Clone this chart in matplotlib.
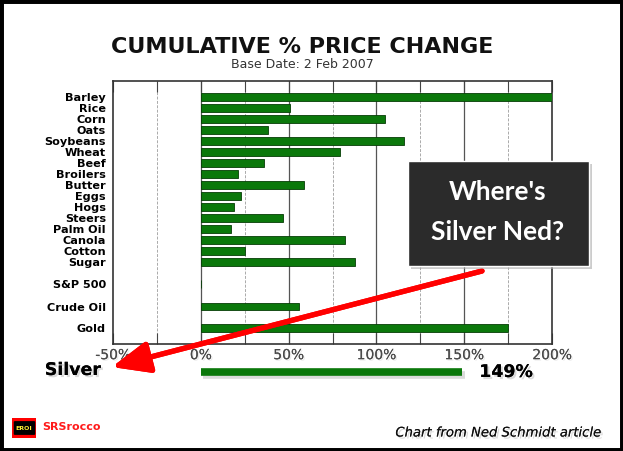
import matplotlib.pyplot as plt
import matplotlib.patheffects as pe
from matplotlib.patches import Rectangle, FancyBboxPatch

# data (cumulative % change since 2 Feb 2007)
commodities = ['Barley', 'Rice', 'Corn', 'Oats', 'Soybeans', 'Wheat', 'Beef', 'Broilers',
               'Butter', 'Eggs', 'Hogs', 'Steers', 'Palm Oil', 'Canola', 'Cotton', 'Sugar']
commodity_chg = [200, 51, 105, 38, 116, 79, 36, 21, 59, 23, 19, 47, 17, 82, 25, 88]
others = ['S&P 500', 'Crude Oil', 'Gold']
others_chg = [0, 56, 175]
silver_chg = 149
xticks = [-50, 0, 50, 100, 150, 200]
xlabels = ['-50%', '0%', '50%', '100%', '150%', '200%']

W, H = 623, 451
fig = plt.figure(figsize=(W / 100, H / 100), dpi=100)
fig.patch.set_facecolor('white')


def fx(px):
	return px / W


def fy(py):
	return 1 - py / H


ax = fig.add_axes([fx(113), fy(344), fx(552) - fx(113), fy(81) - fy(344)])

labels = commodities + others
values = commodity_chg + others_chg
pos = list(range(len(commodities))) + [17.0, 19.05, 21.0]

bar_green = '#0b780b'
ax.barh(pos, values, height=0.65, color=bar_green, edgecolor='#063d06', linewidth=0.6, zorder=3)

ax.set_xlim(-50, 200)
ax.set_ylim(22.45, -1.45)
ax.set_yticks(pos)
ax.set_yticklabels(labels, fontsize=8.1, fontweight='bold', color='black')
ax.set_xticks(xticks)
ax.set_xticklabels(xlabels, fontsize=10, color='#4a4a4a')
for t in ax.get_xticklabels():
	t.set_path_effects([pe.withSimplePatchShadow(offset=(1, -1), shadow_rgbFace='#cccccc', alpha=0.4), pe.Normal()])
ax.set_xticks([-25, 25, 75, 125, 175], minor=True)
ax.tick_params(axis='y', length=0, pad=5)
ax.tick_params(axis='x', which='both', direction='in', length=8, top=True, bottom=True,
			   color='#444444', width=0.8, pad=3)

# grid: darker at 50% steps, light dashed in between
for v in [0, 50, 100, 150]:
	ax.axvline(v, color='#555555', lw=0.9, zorder=1)
for v in [-25, 25, 75, 125, 175]:
	ax.axvline(v, color='#aaaaaa', lw=0.7, ls=(0, (3, 1.5)), zorder=1)
for s in ax.spines.values():
	s.set_color('#333333')
	s.set_linewidth(1.2)

# silver bar below the axis
ax.plot([0, silver_chg], [25, 25], color=bar_green, lw=5.5, solid_capstyle='butt', clip_on=False, zorder=3,
		path_effects=[pe.SimpleLineShadow(offset=(1.5, -2), shadow_color='#999999', alpha=0.35), pe.Normal()])

shadow_txt = [pe.withSimplePatchShadow(offset=(1.5, -1.5), shadow_rgbFace='#999999', alpha=0.35), pe.Normal()]
fig.text(fx(73), fy(370), 'Silver', ha='center', va='center', fontsize=12.5, fontweight='bold',
		 path_effects=shadow_txt)
fig.text(fx(506), fy(372), f'{silver_chg}%', ha='center', va='center', fontsize=12.5, fontweight='bold',
		 path_effects=shadow_txt)

# titles
fig.text(fx(302), fy(47), 'CUMULATIVE % PRICE CHANGE', ha='center', va='center', fontsize=16,
		 fontweight='bold', color='#111111')
fig.text(fx(302), fy(64), 'Base Date: 2 Feb 2007', ha='center', va='center', fontsize=9, color='#333333')

# callout box
box_shadow = Rectangle((fx(411), fy(269)), fx(589) - fx(408), fy(161) - fy(266), transform=fig.transFigure,
					   facecolor='#aaaaaa', edgecolor='none', alpha=0.6, zorder=5)
box = Rectangle((fx(408), fy(266)), fx(589) - fx(408), fy(161) - fy(266), transform=fig.transFigure,
				facecolor='#2b2b2b', edgecolor='white', lw=1, zorder=6)
fig.patches.extend([box_shadow, box])
fig.text(fx(498), fy(192), "Where's", ha='center', va='center', fontsize=19, fontweight='bold',
		 family='Lato', color='white', zorder=7)
fig.text(fx(498), fy(232), 'Silver Ned?', ha='center', va='center', fontsize=19, fontweight='bold',
		 family='Lato', color='white', zorder=7)

# red arrow
arr = ax.annotate('', xy=(fx(112), fy(367)), xycoords='figure fraction',
				  xytext=(fx(482), fy(271)), textcoords='figure fraction',
				  arrowprops=dict(arrowstyle='-|>,head_length=0.95,head_width=0.4', color='#ff0000', lw=3.8,
								  mutation_scale=24, shrinkA=0, shrinkB=0))
arr.arrow_patch.set_path_effects([pe.withSimplePatchShadow(offset=(1.5, -2), shadow_rgbFace='#888888', alpha=0.3),
								  pe.Normal()])
arr.set_zorder(8)

# footer
logo = Rectangle((fx(12), fy(438)), fx(36) - fx(12), fy(418) - fy(438), transform=fig.transFigure,
				 facecolor='#ff0000', edgecolor='none')
logo_in = FancyBboxPatch((fx(15), fy(434)), fx(34) - fx(15), fy(422) - fy(434), transform=fig.transFigure,
						 boxstyle='round,pad=0.002', facecolor='black', edgecolor='none')
fig.patches.extend([logo, logo_in])
fig.text(fx(24), fy(428), 'EROI', ha='center', va='center', fontsize=4.5, fontweight='bold', color='#ffee33')
fig.text(fx(42), fy(427), 'SRSrocco', ha='left', va='center', fontsize=8, fontweight='bold', color='#ff1a1a')
fig.text(fx(602), fy(433), 'Chart from Ned Schmidt article', ha='right', va='center', fontsize=9.5,
		 style='italic', color='#111111',
		 path_effects=[pe.withSimplePatchShadow(offset=(1.5, -1.5), shadow_rgbFace='#999999', alpha=0.35),
					   pe.Normal()])

# outer frame
fig.patches.append(Rectangle((0, 0), 1, 1, transform=fig.transFigure, fill=False, edgecolor='black', lw=5))

fig.savefig('out.png', dpi=100)
